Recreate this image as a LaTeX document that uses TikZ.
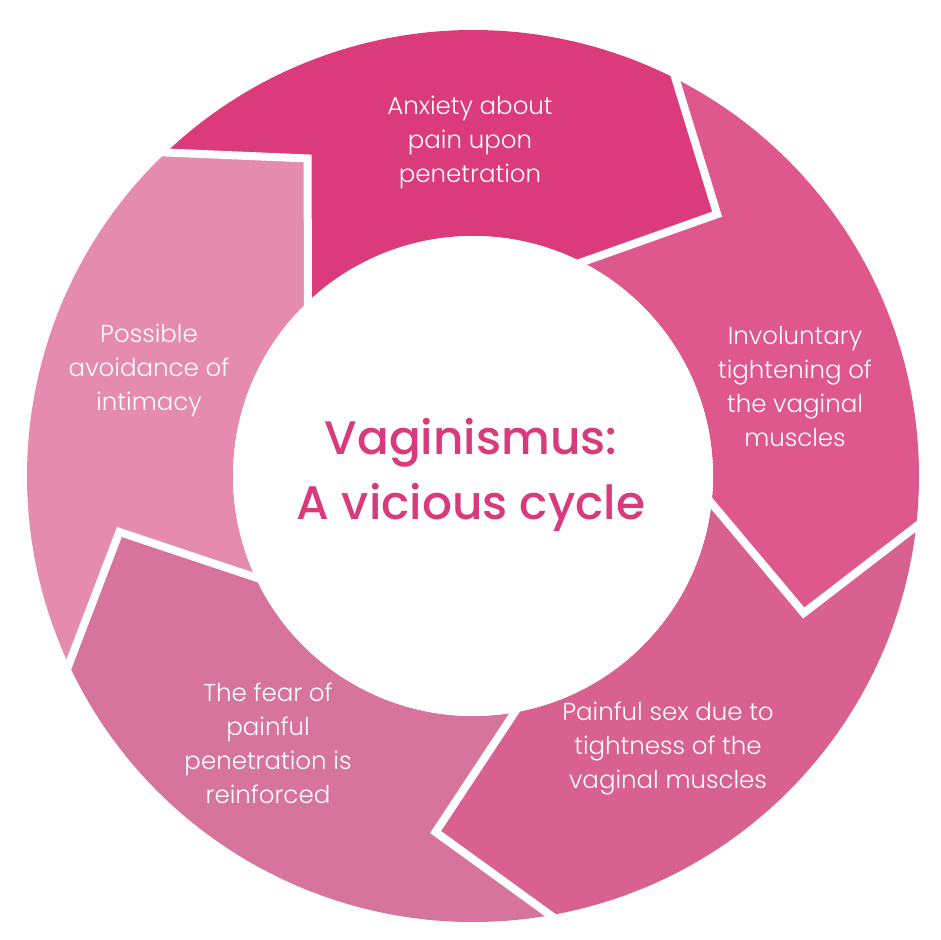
\documentclass[tikz,border=0pt]{standalone}
\usepackage{fontspec}
\usetikzlibrary{calc}
\newfontfamily\bodyfont{Poppins Light}
\newfontfamily\titlefont{Poppins Medium}
\definecolor{segA}{HTML}{DB3A7B}
\definecolor{segB}{HTML}{DE578D}
\definecolor{segC}{HTML}{D86190}
\definecolor{segD}{HTML}{D6749D}
\definecolor{segE}{HTML}{E48BAE}
\definecolor{titlecol}{HTML}{D93A7B}
\tikzset{
  bodytext/.style={text=white, align=center, inner sep=0pt, font=\bodyfont\fontsize{24.5}{34}\selectfont},
  titletext/.style={text=titlecol, align=center, inner sep=0pt, font=\titlefont\fontsize{47}{65}\selectfont},
  gapline/.style={white, line width=8pt, line join=miter, line cap=butt},
}
\newcommand{\Rout}{446}
\newcommand{\Rin}{240}
\newcommand{\Rtip}{358}
\newcommand{\segment}[3]{% color, start angle (ccw end), end angle (cw end)
  \fill[#1] ($(C)+(#2:\Rout)$) arc[start angle=#2, end angle=#3, radius=\Rout]
    -- ($(C)+(#3-16:\Rtip)$) -- ($(C)+(#3:\Rin)$)
    arc[start angle=#3, end angle=#2, radius=\Rin]
    -- ($(C)+(#2-16:\Rtip)$) -- cycle;}
\newcommand{\gap}[2]{% name, angle
  \coordinate (#1o) at ($(C)+(#2:\Rout)$);
  \coordinate (#1t) at ($(C)+(#2-16:\Rtip)$);
  \coordinate (#1i) at ($(C)+(#2:\Rin)$);
  \draw[gapline] ($(#1t)!1.15!(#1o)$) -- (#1t) -- ($(#1t)!1.15!(#1i)$);}
\begin{document}
\begin{tikzpicture}[x=1pt,y=1pt]
\useasboundingbox (0,0) rectangle (940,940);
\fill[white] (0,0) rectangle (940,940);
\coordinate (C) at (473,464);
\segment{segA}{133.5}{63}
\segment{segB}{63}{-6.5}
\segment{segC}{-6.5}{-80}
\segment{segD}{-80}{-155}
\segment{segE}{205}{133.5}
\gap{g1}{133.5}
\gap{g2}{63}
\gap{g3}{-6.5}
\gap{g4}{-80}
\gap{g5}{-155}
\fill[white] (C) circle[radius=\Rin];
\node[titletext] (title) at (471,465) {Vaginismus:\\A vicious cycle};
\node[bodytext] (tA) at (470,798) {Anxiety about\\pain upon\\penetration};
\node[bodytext] (tB) at (795,553) {Involuntary\\tightening of\\the vaginal\\muscles};
\node[bodytext] (tC) at (668,191) {Painful sex due to\\tightness of the\\vaginal muscles};
\node[bodytext] (tD) at (268,197) {The fear of\\painful\\penetration is\\reinforced};
\node[bodytext] (tE) at (149,570) {Possible\\avoidance of\\intimacy};
\end{tikzpicture}
\end{document}
